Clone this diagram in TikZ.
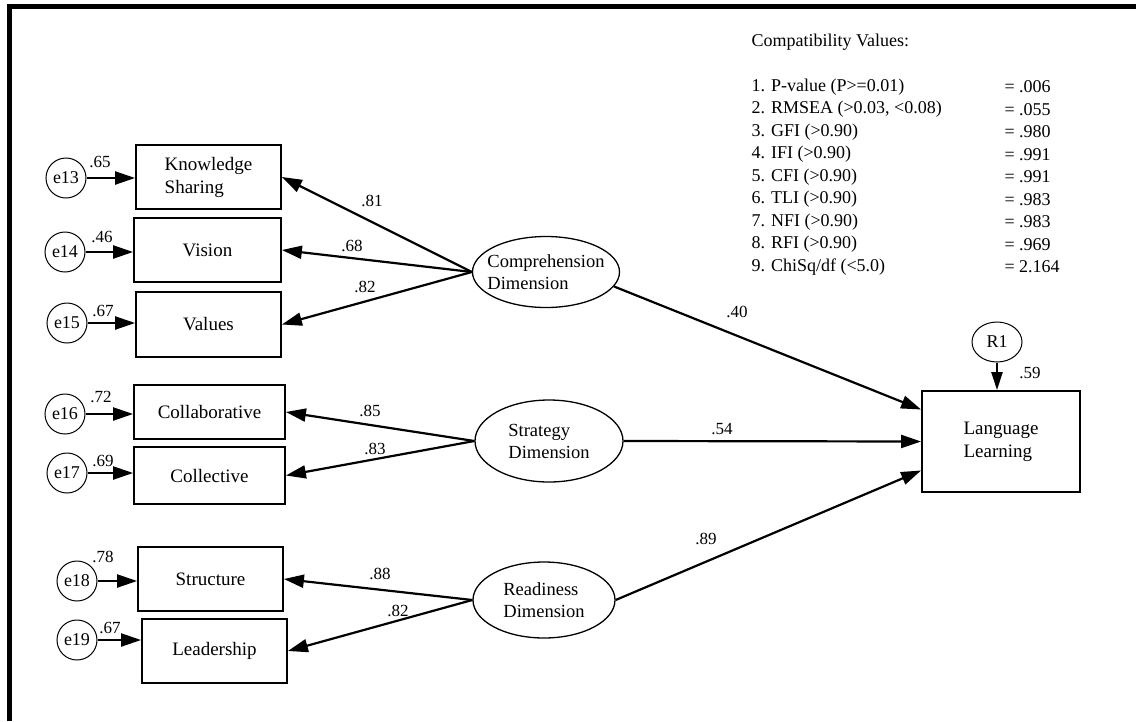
\documentclass[tikz,border=0pt]{standalone}
\usepackage{fontspec}
\setmainfont{Liberation Serif}
\usetikzlibrary{positioning,calc,shapes,arrows.meta}

\begin{document}
\begin{tikzpicture}[x=1pt,y=-1pt,
		every node/.style={font=\fontsize{19}{23}\selectfont},
		obsbox/.style={draw,line width=1.8pt,inner sep=0pt,align=left},
		latent/.style={draw,ellipse,line width=1.3pt,inner sep=0pt},
		errc/.style={draw,circle,line width=1pt,minimum size=40pt,inner sep=0pt,font=\fontsize{18}{20}\selectfont},
		loadarr/.style={line width=2.2pt,-{Triangle[length=20pt,width=13pt]}},
		coef/.style={font=\fontsize{17}{19}\selectfont},
		fitval/.style={anchor=west,font=\fontsize{18}{22}\selectfont}]
			\useasboundingbox (0,0) rectangle (1136,721);
			\draw [line width=5pt] (9.5,721) -- (9.5,6) -- (1136,6);
			% observed variables
			\node[obsbox,minimum width=145pt,minimum height=64pt] (ks) at (208.5,177) {Knowledge\\Sharing};
			\node[obsbox,minimum width=147pt,minimum height=64pt] (vis) at (207.5,250) {Vision};
			\node[obsbox,minimum width=145pt,minimum height=65pt] (val) at (208.5,324.5) {Values};
			\node[obsbox,minimum width=151pt,minimum height=54pt] (colb) at (209.5,412) {Collaborative};
			\node[obsbox,minimum width=151pt,minimum height=57pt] (colv) at (209.5,475.5) {Collective};
			\node[obsbox,minimum width=145pt,minimum height=64pt] (str) at (210.5,579) {Structure};
			\node[obsbox,minimum width=145pt,minimum height=64pt] (lead) at (214.5,651) {Leadership};
			\node[obsbox,minimum width=158pt,minimum height=101pt] (ll) at (1001,441.5) {Language\\Learning};
			% latent variables
			\node[latent,minimum width=147pt,minimum height=71pt,label={[align=left,font=\fontsize{18.5}{22}\selectfont]center:Comprehension\\Dimension}] (comp) at (546,272) {};
			\node[latent,minimum width=148pt,minimum height=82pt,label={[align=left,font=\fontsize{18.5}{22}\selectfont]center:Strategy\\Dimension}] (strat) at (549,441) {};
			\node[latent,minimum width=142pt,minimum height=76pt,label={[align=left,font=\fontsize{18.5}{22}\selectfont]center:Readiness\\Dimension}] (read) at (544,600) {};
			% errors
			\node[errc] (e13) at (66,178) {e13};
			\node[errc] (e14) at (65,252) {e14};
			\node[errc] (e15) at (67,323) {e15};
			\node[errc] (e16) at (65,414) {e16};
			\node[errc] (e17) at (67,473) {e17};
			\node[errc] (e18) at (77,581) {e18};
			\node[errc] (e19) at (77,640) {e19};
			\node[errc,ellipse,minimum width=50pt,minimum height=40pt] (r1) at (997,342) {R1};
			\draw [loadarr] (e13) -- (e13 -| ks.west);
			\draw [loadarr] (e14) -- (e14 -| vis.west);
			\draw [loadarr] (e15) -- (e15 -| val.west);
			\draw [loadarr] (e16) -- (e16 -| colb.west);
			\draw [loadarr] (e17) -- (e17 -| colv.west);
			\draw [loadarr] (e18) -- (e18 -| str.west);
			\draw [loadarr] (e19) -- (e19 -| lead.west);
			\draw [line width=2.2pt,-{Triangle[length=18pt,width=11pt]}] (r1) -- (r1 |- ll.north);
			\node[coef] (w13) at (100,162) {.65};
			\node[coef] (w14) at (102,237) {.46};
			\node[coef] (w15) at (103,311) {.67};
			\node[coef] (w16) at (101,397) {.72};
			\node[coef] (w17) at (103,461) {.69};
			\node[coef] (w18) at (103,557) {.78};
			\node[coef] (w19) at (110,628) {.67};
			\node[coef] (wr1) at (1030,373) {.59};
			% loadings
			\draw [loadarr] (comp.west) -- (ks.east);
			\draw [loadarr] (comp.west) -- (vis.east);
			\draw [loadarr] (comp.west) -- (val.east);
			\draw [loadarr] (strat.west) -- (colb.east);
			\draw [loadarr] (strat.west) -- (colv.east);
			\draw [loadarr] (read.west) -- (str.east);
			\draw [loadarr] (read.west) -- (lead.east);
			\node[coef] (l81) at (372,201) {.81};
			\node[coef] (l68) at (352,246) {.68};
			\node[coef] (l82) at (365,287) {.82};
			\node[coef] (l85) at (370,411) {.85};
			\node[coef] (l83) at (375,449) {.83};
			\node[coef] (l88) at (380,574) {.88};
			\node[coef] (l82b) at (398,611) {.82};
			% structural paths
			\draw [loadarr] (comp.-12) -- ($(ll.west)+(0,-32)$);
			\draw [loadarr] (strat.east) -- (ll.west);
			\draw [loadarr] (read.east) -- ($(ll.west)+(0,29)$);
			\node[coef] (p40) at (737,312) {.40};
			\node[coef] (p54) at (722,429) {.54};
			\node[coef] (p89) at (706,539) {.89};
			% fit indices
			\node[fitval] (fith) at (748,42) {Compatibility Values:};
			\node[fitval] (f1) at (748,87) {1. P-value (P>=0.01)};
			\node[fitval] (f2) at (748,109.5) {2. RMSEA (>0.03, <0.08)};
			\node[fitval] (f3) at (748,132) {3. GFI (>0.90)};
			\node[fitval] (f4) at (748,154.5) {4. IFI (>0.90)};
			\node[fitval] (f5) at (748,177) {5. CFI (>0.90)};
			\node[fitval] (f6) at (748,199.5) {6. TLI (>0.90)};
			\node[fitval] (f7) at (748,222) {7. NFI (>0.90)};
			\node[fitval] (f8) at (748,244.5) {8. RFI (>0.90)};
			\node[fitval] (f9) at (748,267) {9. ChiSq/df (<5.0)};
			\node[fitval] (v1) at (1001,87) {= .006};
			\node[fitval] (v2) at (1001,109.5) {= .055};
			\node[fitval] (v3) at (1001,132) {= .980};
			\node[fitval] (v4) at (1001,154.5) {= .991};
			\node[fitval] (v5) at (1001,177) {= .991};
			\node[fitval] (v6) at (1001,199.5) {= .983};
			\node[fitval] (v7) at (1001,222) {= .983};
			\node[fitval] (v8) at (1001,244.5) {= .969};
			\node[fitval] (v9) at (1001,267) {= 2.164};
		\end{tikzpicture}
\end{document}
